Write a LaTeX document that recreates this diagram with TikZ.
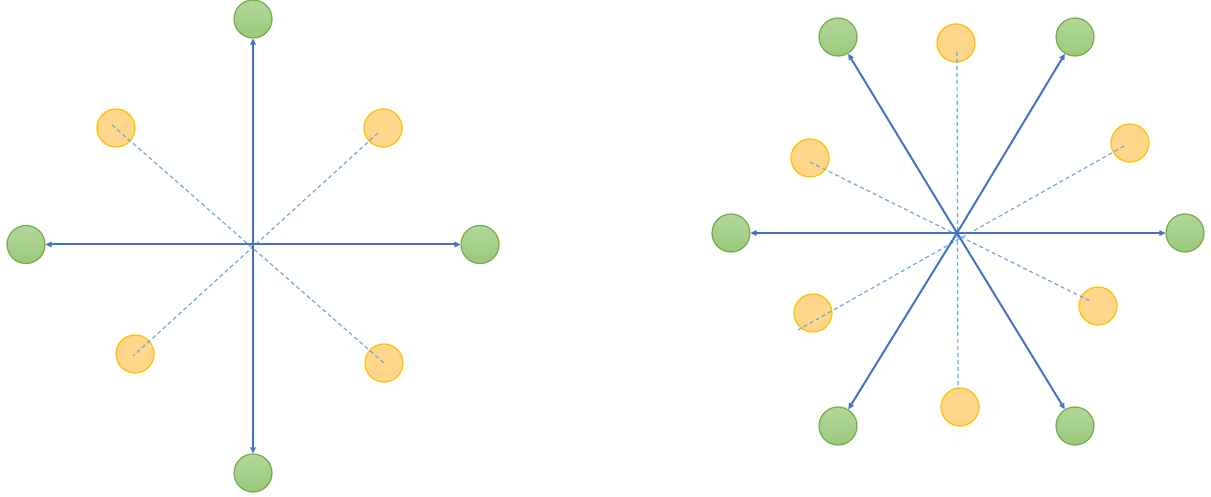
\documentclass[tikz,border=0pt]{standalone}
\usetikzlibrary{arrows.meta}
\definecolor{gtop}{HTML}{B2D69A}
\definecolor{gbot}{HTML}{9ACA7C}
\definecolor{gline}{HTML}{70AD47}
\definecolor{ofill}{HTML}{FFD68A}
\definecolor{oline}{HTML}{FFC000}
\definecolor{arr}{HTML}{4472C4}
\definecolor{dsh}{HTML}{6FA6DC}
\tikzset{
  gnode/.style={circle, draw=gline, line width=1.2pt, top color=gtop, bottom color=gbot, minimum size=38pt, inner sep=0pt},
  onode/.style={circle, draw=oline, line width=1.2pt, fill=ofill, minimum size=38pt, inner sep=0pt},
  arrline/.style={draw=arr, line width=2pt, -{Triangle[length=6pt,width=5.5pt]}},
  dline/.style={draw=dsh, line width=1.2pt, dash pattern=on 4pt off 3pt},
}
\begin{document}
\begin{tikzpicture}[x=1pt,y=-1pt]
\useasboundingbox (0,0) rectangle (1211,497);
% left diagram
\node[gnode] (gt) at (253,19) {};
\node[gnode] (gb) at (253,473) {};
\node[gnode] (gl) at (26,244.5) {};
\node[gnode] (gr) at (480,244.5) {};
\node[onode] (o1) at (116,128) {};
\node[onode] (o2) at (383,128) {};
\node[onode] (o3) at (135,354) {};
\node[onode] (o4) at (384,363) {};
\draw[dline] ([shift={(-4,-3)}]o1.center) -- (o4.center);
\draw[dline] ([shift={(-5,5)}]o2.center) -- ([shift={(-2,2)}]o3.center);
\draw[arrline, {Triangle[length=6pt,width=5.5pt]}-{Triangle[length=6pt,width=5.5pt]}] (gt) -- (gb);
\draw[arrline, {Triangle[length=6pt,width=5.5pt]}-{Triangle[length=6pt,width=5.5pt]}] (gl) -- (gr);
% right diagram
\coordinate (c) at (957,233);
\node[gnode] (h1) at (838,37) {};
\node[gnode] (h2) at (1075,37) {};
\node[gnode] (h3) at (731,233) {};
\node[gnode] (h4) at (1185,233) {};
\node[gnode] (h5) at (838,426) {};
\node[gnode] (h6) at (1075,426) {};
\node[onode] (p1) at (956,43) {};
\node[onode] (p2) at (1130,143) {};
\node[onode] (p3) at (810,158) {};
\node[onode] (p4) at (1098,306) {};
\node[onode] (p5) at (813,313) {};
\node[onode] (p6) at (960,407) {};
\draw[dline] ([shift={(1,9)}]p1.center) -- ([shift={(-2,-18)}]p6.center);
\draw[dline] ([shift={(0,4)}]p3.center) -- ([shift={(-6,-4)}]p4.center);
\draw[dline] ([shift={(-6,3)}]p2.center) -- ([shift={(-15,17)}]p5.center);
\foreach \g in {h1,h2,h3,h4,h5,h6} \draw[arrline] (c) -- (\g);
\end{tikzpicture}
\end{document}
